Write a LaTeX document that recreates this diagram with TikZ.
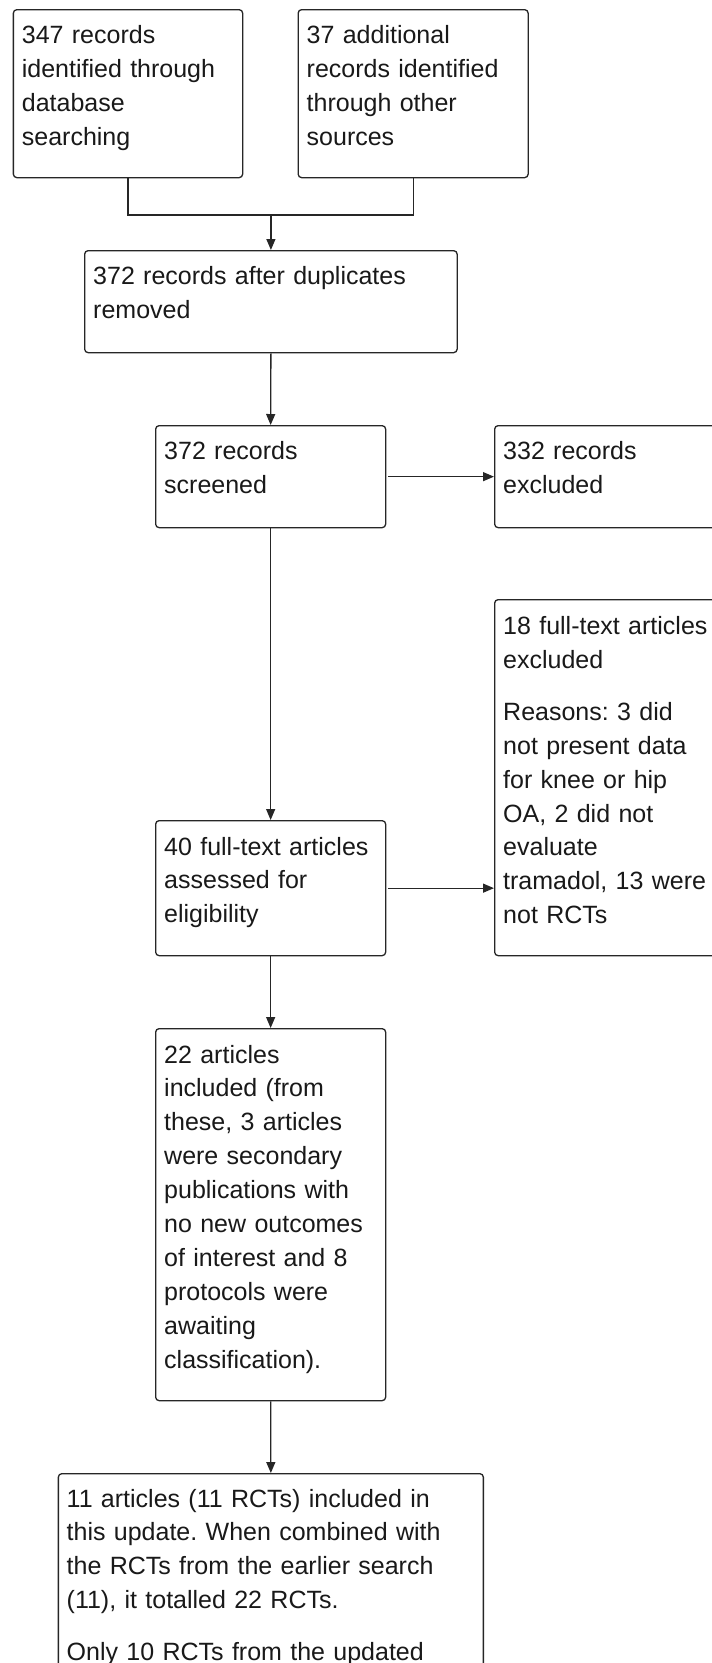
\documentclass[tikz,border=0pt]{standalone}
\usepackage{fontspec}
\setmainfont{Liberation Sans}
\usetikzlibrary{arrows.meta}
\tikzset{
  box/.style={draw=black!85, line width=1.3pt, rounded corners=3.5pt, anchor=north west, inner sep=0pt, fill=white},
  txt/.style={anchor=base west, inner sep=0pt, align=left, text width=420pt, text=black!90,
    font=\fontsize{25}{33.9}\selectfont\frenchspacing},
  conn/.style={draw=black!85, line width=1.3pt},
  arr/.style={conn, -{Triangle[length=11pt,width=9pt]}},
}
\begin{document}
\begin{tikzpicture}[x=1pt,y=-1pt]
\useasboundingbox (0,0) rectangle (712,1663);
\fill[white] (0,0) rectangle (712,1663);
\clip (0,0) rectangle (712,1663);
% boxes
\node[box, minimum width=229.3pt, minimum height=168pt] (b1) at (12.7,9) {};
\node[box, minimum width=230pt, minimum height=168pt] (b2) at (297.5,9) {};
\node[box, minimum width=372.5pt, minimum height=102pt] (b3) at (84,250) {};
\node[box, minimum width=230pt, minimum height=102pt] (b4) at (155,425) {};
\node[box, minimum width=260pt, minimum height=102pt] (b5) at (494,425) {};
\node[box, minimum width=260pt, minimum height=356pt] (b6) at (494,599) {};
\node[box, minimum width=230pt, minimum height=135pt] (b7) at (155,820) {};
\node[box, minimum width=230pt, minimum height=372pt] (b8) at (155,1028) {};
\node[box, minimum width=425pt, minimum height=300pt] (b9) at (57.7,1473) {};
% texts
\node[txt] (t1) at (21.7,43.5) {347 records\\identified through\\database\\searching};
\node[txt] (t2) at (306.5,43.5) {37 additional\\records identified\\through other\\sources};
\node[txt] (t3) at (93,284.5) {372 records after duplicates\\removed};
\node[txt] (t4) at (164,459.5) {372 records\\screened};
\node[txt] (t5) at (503,459.5) {332 records\\excluded};
\node[txt] (t6) at (503,634.5) {18 full-text articles\\excluded\\[18pt]Reasons: 3 did\\not present data\\for knee or hip\\OA, 2 did not\\evaluate\\tramadol, 13 were\\not RCTs};
\node[txt] (t7) at (164,855) {40 full-text articles\\assessed for\\eligibility};
\node[txt] (t8) at (164,1063) {22 articles\\included (from\\these, 3 articles\\were secondary\\publications with\\no new outcomes\\of interest and 8\\protocols were\\awaiting\\classification).};
\node[txt] (t9) at (66.5,1507) {11 articles (11 RCTs) included in\\this update. When combined with\\the RCTs from the earlier search\\(11), it totalled 22 RCTs.\\[18pt]Only 10 RCTs from the updated};
% connectors
\coordinate (j) at (b3.north |- 0,215);
\draw[conn] (b1.south) |- (j) -| (b2.south);
\draw[arr] (j) -- (b3.north);
\draw[arr] (b3.south) -- (b4.north);
\draw[arr, shorten <=2pt] (b4.east) -- (b5.west);
\draw[arr] (b4.south) -- (b7.north);
\draw[arr, shorten <=2pt] (b7.east) -- (b7.east -| b6.west);
\draw[arr] (b7.south) -- (b8.north);
\draw[arr] (b8.south) -- (b9.north);
\end{tikzpicture}
\end{document}
